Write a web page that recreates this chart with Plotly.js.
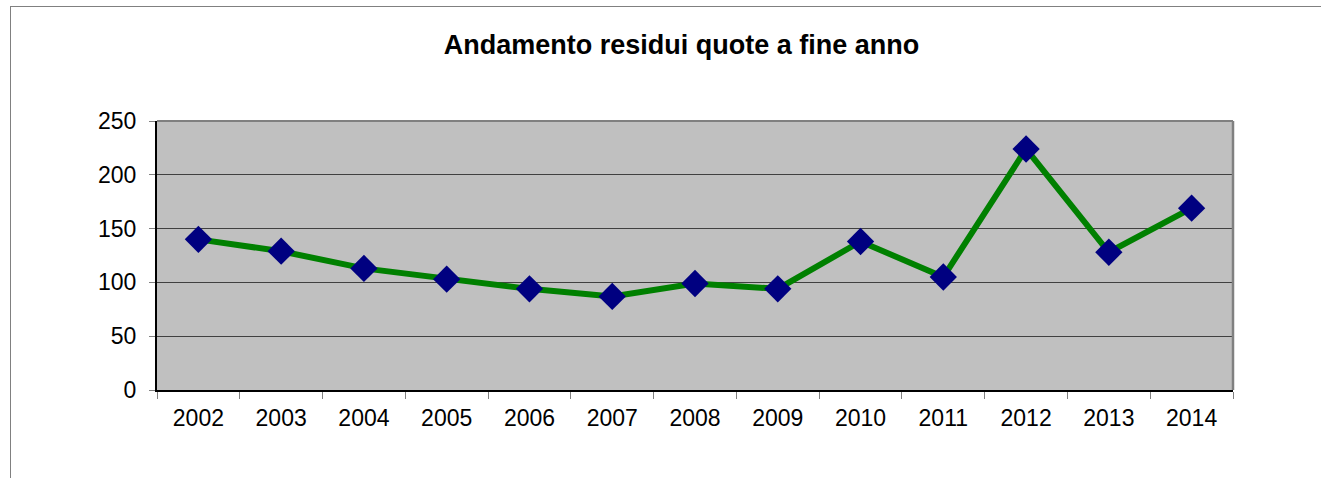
<!DOCTYPE html>
<html>
<head>
<meta charset="utf-8">
<script src="https://cdn.plot.ly/plotly-3.0.1.min.js"></script>
<style>
html,body{margin:0;padding:0;background:#fff;overflow:hidden;}
#frame{position:absolute;left:10px;top:6px;width:1400px;height:600px;border:1px solid #808080;box-sizing:border-box;}
#chart{position:absolute;left:0;top:0;width:1321px;height:478px;}
</style>
</head>
<body>
<div id="frame"></div>
<div id="chart"></div>
<script>
const years = ['2002','2003','2004','2005','2006','2007','2008','2009','2010','2011','2012','2013','2014'];
const residui = [140, 129, 113, 103, 94, 87, 99, 94, 138, 105, 224, 128, 169];
const yTicks = [0, 50, 100, 150, 200, 250];
const chartTitle = 'Andamento residui quote a fine anno';

const trace = {
  x: years,
  y: residui,
  type: 'scatter',
  mode: 'lines+markers',
  line: {color: '#008000', width: 6},
  marker: {symbol: 'diamond', size: 21, color: '#000080', line: {width: 0}},
  hoverinfo: 'x+y'
};

const layout = {
  width: 1321, height: 478,
  margin: {l: 157, r: 88, t: 121, b: 88},
  paper_bgcolor: 'rgba(0,0,0,0)',
  plot_bgcolor: '#C0C0C0',
  font: {family: 'Liberation Sans, Arial, sans-serif', color: '#000', size: 23},
  showlegend: false,
  title: {
    text: '<b>' + chartTitle + '</b>',
    x: 0.4875, xref: 'paper', xanchor: 'center',
    y: 0.907, yref: 'container', yanchor: 'middle',
    font: {size: 27, family: 'Liberation Sans, Arial, sans-serif', color: '#000'}
  },
  xaxis: {
    type: 'category',
    range: [-0.5, 12.5],
    tickson: 'boundaries',
    ticks: 'outside', ticklen: 7, tickcolor: '#808080', tickwidth: 1,
    showline: true, linecolor: '#000', linewidth: 2,
    mirror: false,
    showgrid: false, zeroline: false,
    ticklabelstandoff: 6,
    tickfont: {size: 23},
    fixedrange: true
  },
  yaxis: {
    range: [0, 250],
    tickvals: yTicks,
    ticktext: yTicks.map(String),
    ticks: 'outside', ticklen: 6, tickcolor: '#808080', tickwidth: 1,
    showline: true, linecolor: '#000', linewidth: 2,
    showgrid: true, gridcolor: '#404040', gridwidth: 1,
    zeroline: false,
    ticklabelstandoff: 8,
    tickfont: {size: 23},
    fixedrange: true
  },
  shapes: [
    {type: 'line', xref: 'paper', yref: 'paper', x0: 0, x1: 1, y0: 1, y1: 1, line: {color: '#808080', width: 2}},
    {type: 'line', xref: 'paper', yref: 'paper', x0: 1, x1: 1, y0: 0, y1: 1, line: {color: '#808080', width: 2.5}}
  ]
};

Plotly.newPlot('chart', [trace], layout, {displayModeBar: false});
</script>
</body>
</html>
